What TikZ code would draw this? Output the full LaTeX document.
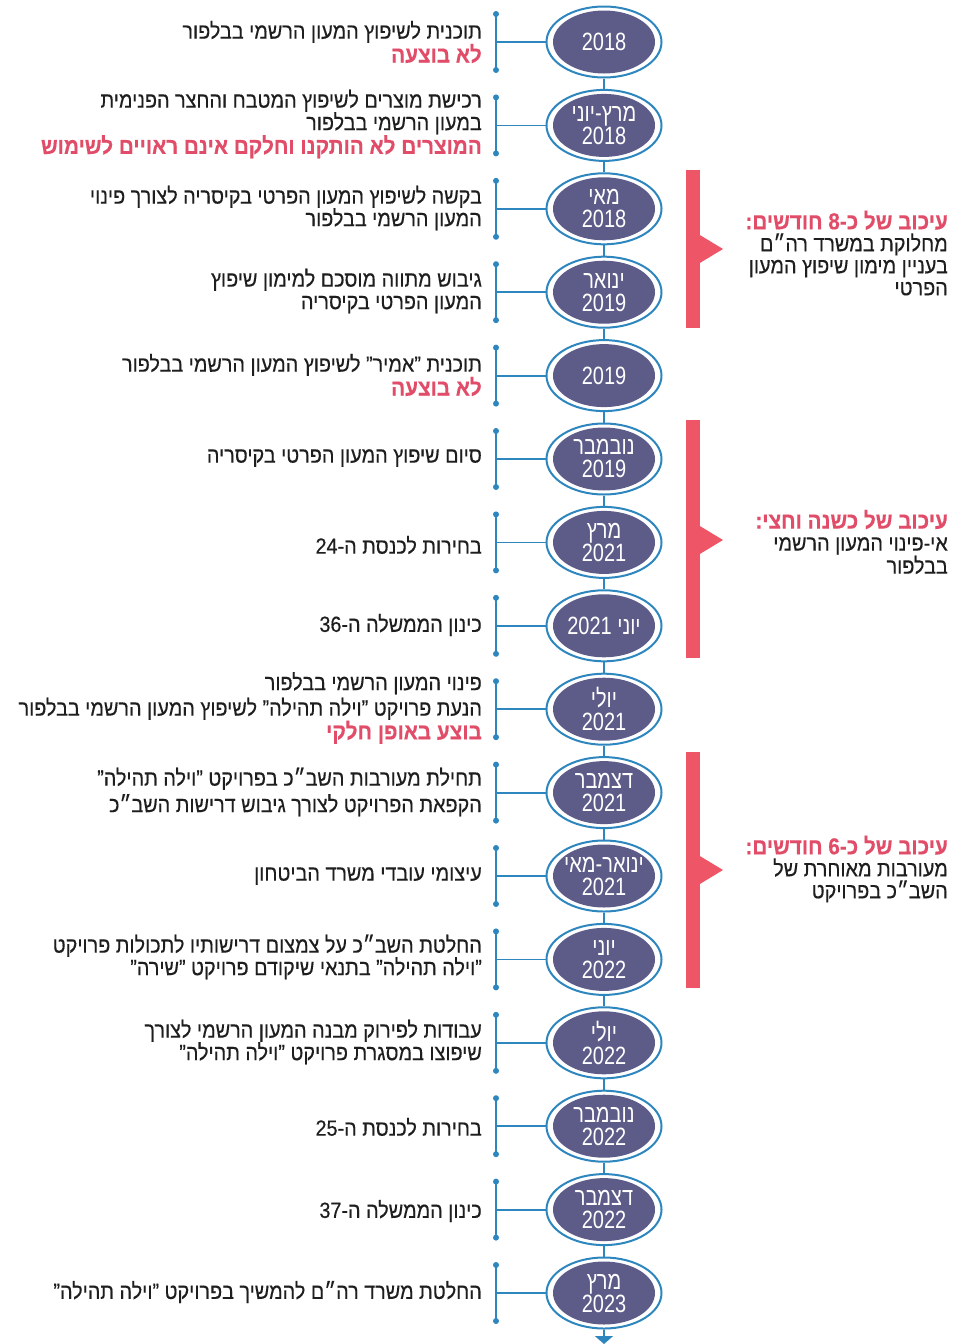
\documentclass[tikz,border=0pt]{standalone}
\usepackage{fontspec}
\usetikzlibrary{shapes.geometric,arrows.meta}
\TeXXeTstate=1
\newfontfamily\hebtxt[Script=Hebrew,FakeStretch=0.9,FakeBold=0.3]{Liberation Sans}
\newfontfamily\hebdate[Script=Hebrew,FakeStretch=0.8]{Liberation Sans}
\newcommand\hebln[1]{\beginR #1\endR}
\newcommand\redln[1]{{\color{tltext}\bfseries\fontsize{23}{22.5}\selectfont\beginR #1\endR}}
\definecolor{tlpurple}{HTML}{5D5B88}
\definecolor{tlblue}{HTML}{2E86BE}
\definecolor{tlred}{HTML}{EE5566}
\definecolor{tltext}{HTML}{E14C68}
\definecolor{tlblack}{HTML}{1E1E1E}
\begin{document}
\begin{tikzpicture}[x=1pt,y=-1pt,
  outer/.style={ellipse,draw=tlblue,line width=2pt,fill=white,minimum width=115pt,minimum height=71pt,inner sep=0pt},
  inner/.style={ellipse,fill=tlpurple,minimum width=102pt,minimum height=63pt,inner sep=0pt},
  datetxt/.style={text=white,font=\hebdate\fontsize{25}{23}\selectfont,align=center,inner sep=0pt},
  evt/.style={anchor=east,align=right,font=\hebtxt\fontsize{22}{22.5}\selectfont,text=tlblack,inner sep=0pt},
  note/.style={anchor=east,align=right,font=\hebtxt\fontsize{22}{22}\selectfont,text=tlblack,inner sep=0pt},
  conn/.style={tlblue,line width=1.8pt},
  bar/.style={fill=tlred}
]
\fill[white] (0,0) rectangle (954,1344);
\useasboundingbox (0,0) rectangle (954,1344);

% timeline ellipses and brackets
\foreach \i/\y in {1/42,2/125.4,3/208.8,4/292.2,5/375.6,6/459,7/542.4,8/625.8,9/709.2,10/792.6,11/876,12/959.4,13/1042.8,14/1126.2,15/1209.6,16/1293}{
  \node[outer] (eo\i) at (604,\y) {};
  \node[inner] (ei\i) at (604,\y) {};
  \coordinate (b\i) at (496,\y);
  \draw[conn] (eo\i.west) -- (b\i);
  \draw[conn] ([yshift=28pt]b\i) -- ([yshift=-28pt]b\i);
  \fill[tlblue] ([yshift=28pt]b\i) circle (3pt);
  \fill[tlblue] ([yshift=-28pt]b\i) circle (3pt);
}
\foreach \i [evaluate=\i as \j using int(\i+1)] in {1,...,15}{
  \draw[conn] (eo\i.south) -- (eo\j.north);
}
\coordinate (arrtip) at (604,1344);
\draw[conn,-{Triangle[width=18pt,length=8pt]}] (eo16.south) -- (arrtip);

% date labels
\node[datetxt] (d1) at (ei1) {\hebln{2018}};
\node[datetxt] (d2) at (ei2) {\hebln{מרץ-יוני}\\\hebln{2018}};
\node[datetxt] (d3) at (ei3) {\hebln{מאי}\\\hebln{2018}};
\node[datetxt] (d4) at (ei4) {\hebln{ינואר}\\\hebln{2019}};
\node[datetxt] (d5) at (ei5) {\hebln{2019}};
\node[datetxt] (d6) at (ei6) {\hebln{נובמבר}\\\hebln{2019}};
\node[datetxt] (d7) at (ei7) {\hebln{מרץ}\\\hebln{2021}};
\node[datetxt] (d8) at (ei8) {\hebln{יוני 2021}};
\node[datetxt] (d9) at (ei9) {\hebln{יולי}\\\hebln{2021}};
\node[datetxt] (d10) at (ei10) {\hebln{דצמבר}\\\hebln{2021}};
\node[datetxt] (d11) at (ei11) {\hebln{ינואר-מאי}\\\hebln{2021}};
\node[datetxt] (d12) at (ei12) {\hebln{יוני}\\\hebln{2022}};
\node[datetxt] (d13) at (ei13) {\hebln{יולי}\\\hebln{2022}};
\node[datetxt] (d14) at (ei14) {\hebln{נובמבר}\\\hebln{2022}};
\node[datetxt] (d15) at (ei15) {\hebln{דצמבר}\\\hebln{2022}};
\node[datetxt] (d16) at (ei16) {\hebln{מרץ}\\\hebln{2023}};

% event texts
\node[evt] (t1) at (482,42) {\hebln{תוכנית לשיפוץ המעון הרשמי בבלפור}\\\redln{לא בוצעה}};
\node[evt] (t2) at (482,124) {\hebln{רכישת מוצרים לשיפוץ המטבח והחצר הפנימית}\\\hebln{במעון הרשמי בבלפור}\\\redln{המוצרים לא הותקנו וחלקם אינם ראויים לשימוש}};
\node[evt] (t3) at (482,208) {\hebln{בקשה לשיפוץ המעון הפרטי בקיסריה לצורך פינוי}\\\hebln{המעון הרשמי בבלפור}};
\node[evt] (t4) at (482,291) {\hebln{גיבוש מתווה מוסכם למימון שיפוץ}\\\hebln{המעון הפרטי בקיסריה}};
\node[evt] (t5) at (482,375) {\hebln{תוכנית ”אמיר” לשיפוץ המעון הרשמי בבלפור}\\\redln{לא בוצעה}};
\node[evt] (t6) at (482,458) {\hebln{סיום שיפוץ המעון הפרטי בקיסריה}};
\node[evt] (t7) at (482,545) {\hebln{בחירות לכנסת ה-24}};
\node[evt] (t8) at (482,625) {\hebln{כינון הממשלה ה-36}};
\node[evt] (t9) at (482,708) {\hebln{פינוי המעון הרשמי בבלפור}\\[3pt]\hebln{הנעת פרויקט ”וילה תהילה” לשיפוץ המעון הרשמי בבלפור}\\\redln{בוצע באופן חלקי}};
\node[evt] (t10) at (482,792) {\hebln{תחילת מעורבות השב״כ בפרויקט ”וילה תהילה”}\\[4pt]\hebln{הקפאת הפרויקט לצורך גיבוש דרישות השב״כ}};
\node[evt] (t11) at (482,876) {\hebln{עיצומי עובדי משרד הביטחון}};
\node[evt] (t12) at (482,957) {\hebln{החלטת השב״כ על צמצום דרישותיו לתכולות פרויקט}\\\hebln{”וילה תהילה” בתנאי שיקודם פרויקט ”שירה”}};
\node[evt] (t13) at (482,1042) {\hebln{עבודות לפירוק מבנה המעון הרשמי לצורך}\\\hebln{שיפוצו במסגרת פרויקט ”וילה תהילה”}};
\node[evt] (t14) at (482,1127) {\hebln{בחירות לכנסת ה-25}};
\node[evt] (t15) at (482,1211) {\hebln{כינון הממשלה ה-37}};
\node[evt] (t16) at (482,1292) {\hebln{החלטת משרד רה״ם להמשיך בפרויקט ”וילה תהילה”}};

% delay bars
\fill[bar] (686,170) rectangle (700,328);
\fill[bar] (699,234.5) -- (723,249) -- (699,263.5) -- cycle;
\fill[bar] (686,420) rectangle (700,658);
\fill[bar] (699,525.5) -- (723,540) -- (699,554.5) -- cycle;
\fill[bar] (686,752) rectangle (700,988);
\fill[bar] (699,855.5) -- (723,870) -- (699,884.5) -- cycle;

\node[note] (n1) at (948,253) {\redln{עיכוב של כ-8 חודשים:}\\\hebln{מחלוקת במשרד רה״ם}\\\hebln{בעניין מימון שיפוץ המעון}\\\hebln{הפרטי}};
\node[note] (n2) at (948,542) {\redln{עיכוב של כשנה וחצי:}\\\hebln{אי-פינוי המעון הרשמי}\\\hebln{בבלפור}};
\node[note] (n3) at (948,869) {\redln{עיכוב של כ-6 חודשים:}\\\hebln{מעורבות מאוחרת של}\\\hebln{השב״כ בפרויקט}};
\end{tikzpicture}
\end{document}
